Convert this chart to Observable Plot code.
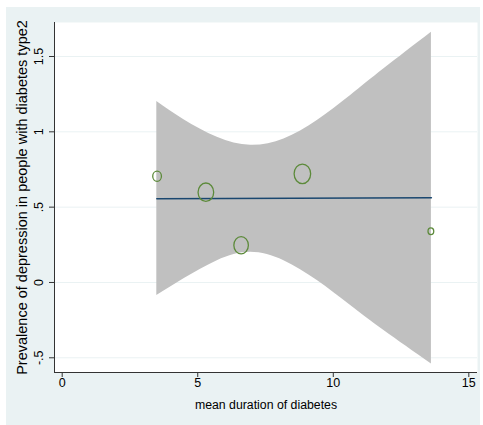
<!DOCTYPE html>
<html><head><meta charset="utf-8">
<script src="https://cdn.jsdelivr.net/npm/d3@7"></script>
<script src="https://cdn.jsdelivr.net/npm/@observablehq/plot@0.6"></script>
<style>html,body{margin:0;padding:0;background:#fff}</style>
</head><body><div id="chart"></div>
<script>
// Study-level data
const studyDuration   = [3.5, 5.3, 6.6, 8.86, 13.6];
const studyPrevalence = [0.705, 0.599, 0.247, 0.721, 0.340];
const studyWeight     = [23, 74, 64, 83, 10];

// Fitted meta-regression line
const fitX = [3.49, 13.62];
const fitY = [0.555, 0.562];

// Confidence band
const bandX     = [3.49, 4.49, 5.72, 6.95, 8.18, 9.41, 10.64, 11.87, 13.62];
const bandUpper = [1.201, 1.080, 0.964, 0.911, 0.953, 1.075, 1.241, 1.418, 1.661];
const bandLower = [-0.087, 0.024, 0.145, 0.201, 0.145, 0.013, -0.153, -0.319, -0.541];

// Axes
const xTicks = [0, 5, 10, 15];
const yTicks = [-0.5, 0, 0.5, 1, 1.5];
const yTickLabels = ["-.5", "0", ".5", "1", "1.5"];
const xLabel = "mean duration of diabetes";
const yLabel = "Prevalence of depression in people with diabetes type2";

const xDomain = [-0.284, 15.32];
const yDomain = [-0.5976, 1.7257];

const studies = studyDuration.map((x, i) => ({x, y: studyPrevalence[i], w: studyWeight[i]}));
const fit = fitX.map((x, i) => ({x, y: fitY[i]}));
const band = bandX.map((x, i) => ({x, lo: bandLower[i], hi: bandUpper[i]}));

// slightly elliptical hollow marker (as in the reference image)
const ellipse = {
  draw(ctx, size) {
    const r = Math.sqrt(size / Math.PI);
    const rx = r * 0.88, ry = r * 1.04, k = 0.5523;
    ctx.moveTo(rx, 0);
    ctx.bezierCurveTo(rx, ry * k, rx * k, ry, 0, ry);
    ctx.bezierCurveTo(-rx * k, ry, -rx, ry * k, -rx, 0);
    ctx.bezierCurveTo(-rx, -ry * k, -rx * k, -ry, 0, -ry);
    ctx.bezierCurveTo(rx * k, -ry, rx, -ry * k, rx, 0);
    ctx.closePath();
  }
};

const chart = Plot.plot({
  width: 483, height: 425,
  marginLeft: 54, marginRight: 6, marginTop: 22, marginBottom: 53,
  style: {fontFamily: "'Liberation Sans', Arial, sans-serif", fontSize: "12px", background: "transparent", color: "#000"},
  x: {domain: xDomain},
  y: {domain: yDomain},
  r: {type: "sqrt", domain: [0, 83], range: [0, 9.4]},
  marks: [
    Plot.frame({fill: "white", stroke: null}),
    Plot.gridY(yTicks, {stroke: "#EAF2F3", strokeOpacity: 1, strokeWidth: 1}),
    Plot.areaY(band, {x: "x", y1: "lo", y2: "hi", fill: "#C0C0C0", curve: "natural"}),
    Plot.line(fit, {x: "x", y: "y", stroke: "#1A476F", strokeWidth: 1.5}),
    Plot.dot(studies, {x: "x", y: "y", r: "w", symbol: ellipse, stroke: "#5C8A3A", strokeWidth: 1.3, fill: "none"}),
    Plot.ruleX([xDomain[0]], {stroke: "#333", strokeWidth: 1}),
    Plot.ruleY([yDomain[0]], {stroke: "#333", strokeWidth: 1}),
    Plot.axisX(xTicks, {tickSize: 5, tickPadding: 1, label: null, fontSize: 12.5, stroke: "#333"}),
    Plot.axisY(yTicks, {tickSize: 5, tickFormat: () => "", label: null, stroke: "#333"}),
    Plot.text(yTicks, {y: d => d, text: (d, i) => yTickLabels[i], frameAnchor: "left", dx: -16, rotate: -90, textAnchor: "middle", lineAnchor: "middle", fontSize: 12.5}),
    Plot.text([yLabel], {frameAnchor: "left", dx: -32, rotate: -90, textAnchor: "middle", lineAnchor: "middle", fontSize: 14.5}),
    Plot.text([xLabel], {frameAnchor: "bottom", dy: 33, textAnchor: "middle", lineAnchor: "middle", fontSize: 12.3})
  ]
});

const svg = d3.select(chart);
svg.style("background", "#fff");
svg.insert("rect", ":first-child")
  .attr("x", 6).attr("y", 7).attr("width", 474).attr("height", 418)
  .attr("fill", "#EAF2F3");

document.getElementById("chart").appendChild(chart);
</script>
</body></html>
